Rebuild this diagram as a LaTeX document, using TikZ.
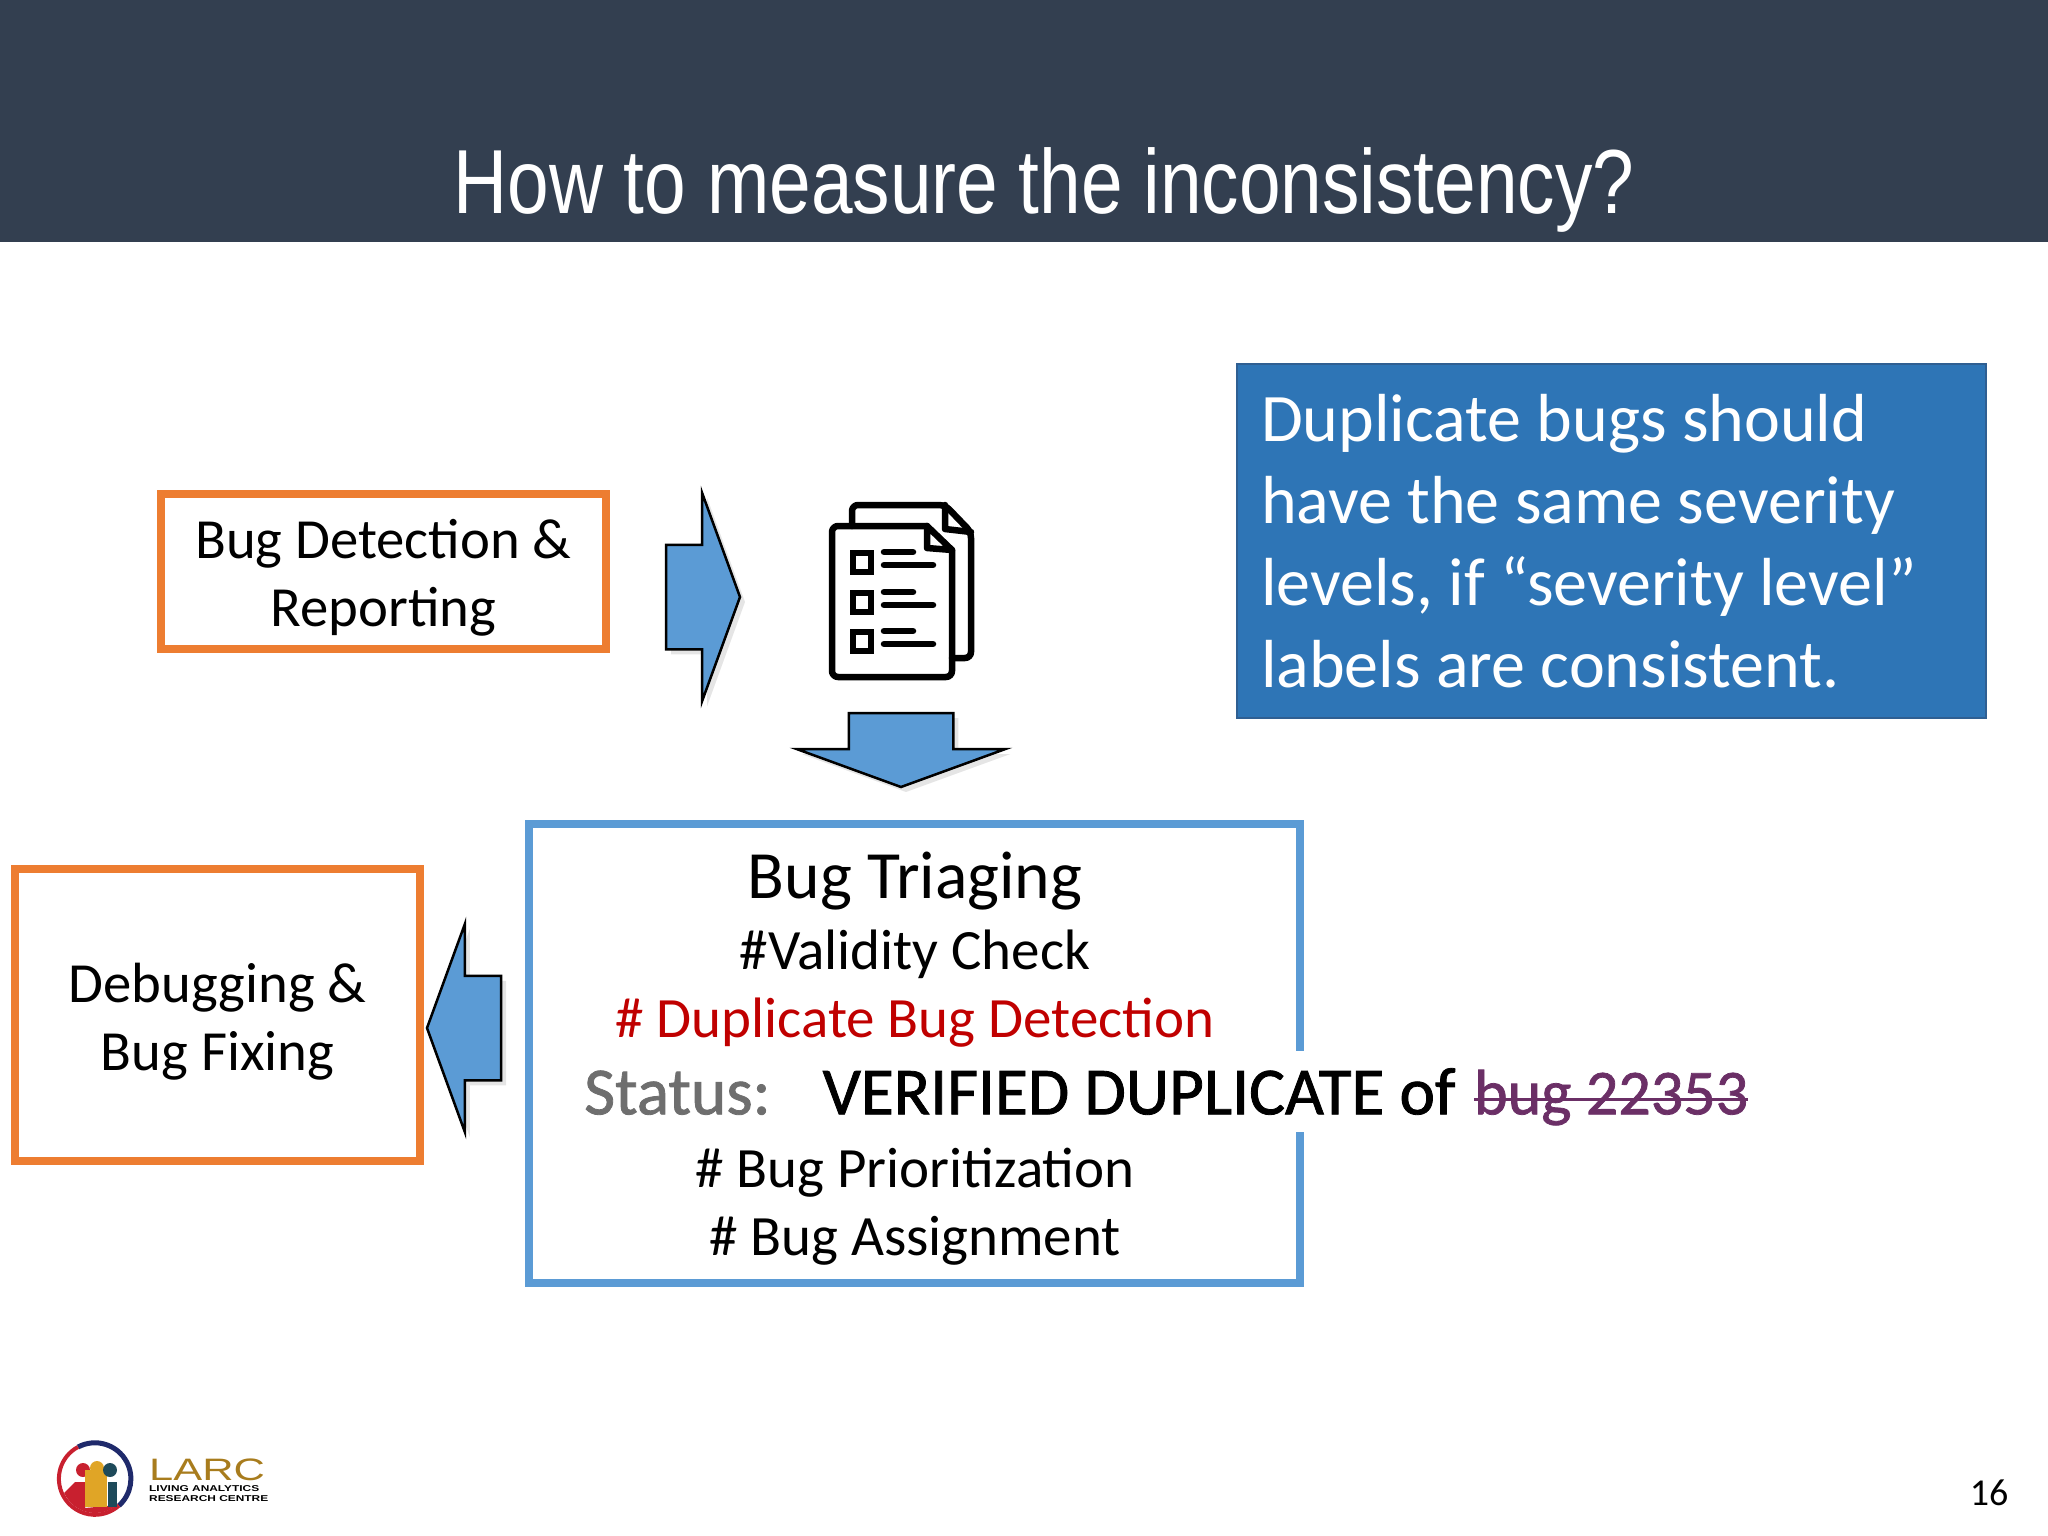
\documentclass[tikz,border=0pt]{standalone}
\usepackage{fontspec}
\usepackage{tikz}
\usetikzlibrary{shapes.arrows, shadows, positioning}
\setmainfont{Carlito}
\newfontfamily\statusfont[FakeBold=1.2]{Carlito}
\newfontfamily\titlefont[FakeStretch=0.822]{Liberation Sans}
\newfontfamily\logofont[FakeStretch=1.4]{Liberation Sans}
\definecolor{headerdark}{HTML}{333F50}
\definecolor{boxorange}{HTML}{ED7D31}
\definecolor{boxblue}{HTML}{5B9BD5}
\definecolor{notefill}{HTML}{2E75B6}
\definecolor{noteedge}{HTML}{2F5F92}
\definecolor{dupred}{HTML}{C00000}
\definecolor{statusgray}{HTML}{6E6E6E}
\definecolor{linkpurple}{HTML}{6B2F66}
\definecolor{logonavy}{HTML}{1F2A6B}
\definecolor{logored}{HTML}{C8202F}
\definecolor{logogold}{HTML}{E0A526}
\definecolor{logoteal}{HTML}{1E4A5A}
\tikzset{
    orangebox/.style={rectangle, draw=boxorange, line width=8.5pt, align=center, outer sep=0pt, font=\fontsize{56.7}{68}\selectfont},
    triagebox/.style={rectangle, draw=boxblue, line width=8.5pt, outer sep=0pt},
    triageline/.style={inner sep=0pt, font=\fontsize{57}{62}\selectfont},
    statustext/.style={inner ysep=0pt, minimum height=81pt, font=\statusfont\fontsize{67.3}{70}\selectfont},
    notebox/.style={rectangle, draw=noteedge, line width=2.5pt, fill=notefill, text=white, align=flush left, outer sep=0pt, font=\fontsize{68}{82}\selectfont},
    blockarrow/.style={single arrow, draw=black, line width=2.5pt, fill=boxblue, inner xsep=0pt, inner ysep=51pt, outer sep=0pt,
        minimum height=74pt, minimum width=207pt, single arrow head extend=52pt, single arrow tip angle=140,
        drop shadow={shadow xshift=5pt, shadow yshift=-5pt, opacity=0.1, fill=black}},
    iconline/.style={draw=black, line width=6.5pt, line cap=round, line join=round}
}
\begin{document}
\begin{tikzpicture}[x=1pt, y=-1pt]
    \useasboundingbox (0,0) rectangle (2048,1536);
    % Title band (top)
    \node[rectangle, fill=headerdark, minimum width=2048pt, minimum height=242pt, inner sep=0pt, anchor=north west] (header_band) at (0,0) {};
    \node[text=white, inner sep=0pt, anchor=base, font=\titlefont\fontsize{91}{100}\selectfont] (header_title) at (1044,213) {How to measure the inconsistency?};

    % Orange boxes (left)
    \node[orangebox, minimum width=445pt, minimum height=155pt, anchor=north west] (detect_box) at (161,494) {\rule{0pt}{52pt}Bug Detection \&\\Reporting};
    \node[orangebox, minimum width=405pt, minimum height=292pt, anchor=north west] (debug_box) at (15,869) {\rule{0pt}{52pt}Debugging \&\\Bug Fixing};

    % Blue note (top right)
    \node[notebox, minimum width=749pt, minimum height=354pt, text width=725pt, inner xsep=12pt, anchor=north west] (note_box) at (1237,364)
    {\hspace*{12pt}Duplicate bugs should\\\hspace*{12pt}have the same severity\\\hspace*{12pt}levels, if “severity level”\\\hspace*{12pt}labels are consistent.};

    % Triaging box and its lines
    \node[triagebox, minimum width=771pt, minimum height=459pt, anchor=north west] (triage_box) at (529,824) {};
    \node[triageline, font=\fontsize{67.6}{70}\selectfont] (triage_title) at (915,881) {Bug Triaging};
    \node[triageline] (triage_validity) at (915,954) {\#Validity Check};
    \node[triageline, text=dupred] (triage_duplicate) at (915,1023) {\# Duplicate Bug Detection};
    \node[triageline] (triage_priority) at (915,1173) {\# Bug Prioritization};
    \node[triageline] (triage_assign) at (915,1241) {\# Bug Assignment};
    \node[statustext, fill=white, inner xsep=10pt, anchor=west] (status_line) at (574,1091.5)
    {\textcolor{statusgray}{Status:}\hspace{52pt}VERIFIED DUPLICATE of};
    \node[statustext, inner xsep=0pt, text=linkpurple, anchor=base west, xshift=8pt, font=\statusfont\fontsize{64}{70}\selectfont] (status_link) at (status_line.base east) {bug 22353};
    \draw[linkpurple, line width=3pt] ([yshift=-2pt]status_link.west) -- ([yshift=-2pt]status_link.east);

    % Block arrows
    \node[blockarrow, anchor=tip] (arrow_report) at (740,597) {};
    \node[blockarrow, rotate=-90, anchor=tip] (arrow_triage) at (901,787) {};
    \node[blockarrow, rotate=180, anchor=tip] (arrow_debug) at (427,1028) {};

    % Document icon
    \draw[iconline, rounded corners=6pt] (852,526) -- (852,505) -- (945,505) -- (971,532) -- (971,658) -- (952,658);
    \draw[iconline] (945,505) -- (945,529) -- (971,532);
    \draw[iconline, rounded corners=6pt] (927,526) -- (832,526) -- (832,677) -- (952,677) -- (952,550);
    \draw[iconline] (927,526) -- (952,550) -- (927,548) -- cycle;
    \foreach \yy in {553,593,632} {
        \draw[iconline, line cap=butt, line join=miter] (853,\yy) rectangle +(18,19);
        \draw[iconline] (884,\yy-1) -- (913,\yy-1);
        \draw[iconline] (884,\yy+12) -- (933,\yy+12);
    }

    % Logo (bottom left)
    \draw[logonavy, line width=5pt] (78,1447) arc[start angle=-118, end angle=48, radius=36];
    \draw[logored, line width=4pt] (78,1447) arc[start angle=-118, end angle=-312, radius=36];
    \fill[logored] (64,1493) -- (75,1482) -- (85,1482) -- (85,1508) -- (117,1505) arc[start angle=50, end angle=155, radius=34] -- cycle;
    \fill[logored] (83,1470) circle[radius=7];
    \fill[logogold] (85,1470) rectangle (107,1507);
    \fill[logogold] (97,1468) circle[radius=7];
    \fill[logoteal] (110,1470) circle[radius=7];
    \fill[logoteal] (108,1482) rectangle (117,1507);
    \node[text=logogold!75!black, inner sep=0pt, anchor=base west, font=\logofont\fontsize{31}{31}\selectfont] (logo_name) at (149,1480) {LARC};
    \node[inner sep=0pt, align=left, below=5pt of logo_name.south west, anchor=north west, font=\logofont\bfseries\fontsize{8.5}{9.5}\selectfont] (logo_sub) {LIVING ANALYTICS\\RESEARCH CENTRE};

    % Page number
    \node[inner sep=0pt, font=\fontsize{38}{40}\selectfont] (page_number) at (1989,1493) {16};
\end{tikzpicture}
\end{document}
